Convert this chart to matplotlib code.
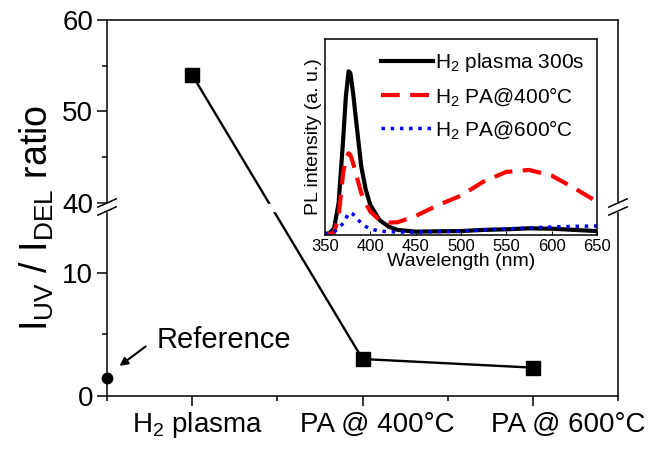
import numpy as np
import matplotlib
matplotlib.use('Agg')
import matplotlib.pyplot as plt
from matplotlib.patches import Rectangle

plt.rcParams['font.family'] = ['Liberation Sans', 'DejaVu Sans']
plt.rcParams['mathtext.fontset'] = 'custom'
plt.rcParams['mathtext.rm'] = 'Liberation Sans'
plt.rcParams['mathtext.it'] = 'Liberation Sans:italic'
plt.rcParams['mathtext.bf'] = 'Liberation Sans:bold'

# UV / defect emission ratio for each treatment
cond_x = [1, 3, 5]
cond_names = ['H$_2$ plasma', 'PA @ 400°C', 'PA @ 600°C']
cond_label_x = [1.06, 3.17, 5.41]
ratio = [54.0, 3.0, 2.3]
ref_x = [0]
ref_ratio = [1.5]

# PL spectra for the inset
wl = [350, 355, 360, 365, 370, 373, 376, 378, 381, 385, 390, 395, 400,
      410, 420, 430, 450, 475, 500, 525, 550, 575, 600, 625, 650]
pl_plasma = [0.005, 0.009, 0.034, 0.162, 0.486, 0.707, 0.835, 0.826, 0.724,
             0.554, 0.349, 0.230, 0.153, 0.077, 0.043, 0.026, 0.017, 0.019,
             0.020, 0.026, 0.029, 0.034, 0.032, 0.026, 0.020]
pl_pa400 = [0.005, 0.005, 0.012, 0.094, 0.315, 0.392, 0.417, 0.409, 0.366,
            0.298, 0.213, 0.162, 0.119, 0.077, 0.063, 0.065, 0.097, 0.153,
            0.201, 0.273, 0.322, 0.332, 0.303, 0.239, 0.170]
pl_pa600 = [0.005, 0.007, 0.017, 0.034, 0.060, 0.085, 0.111, 0.114, 0.106,
            0.085, 0.060, 0.043, 0.031, 0.020, 0.017, 0.015, 0.015, 0.017,
            0.020, 0.026, 0.031, 0.036, 0.041, 0.044, 0.046]

# broken y axis: 0-15 and 40-60 with different scales
LOW_K, GAP_K, UP_K = 12.3, 0.32, 9.125
Y0 = 15 * LOW_K
Y1 = Y0 + 25 * GAP_K


def fwd(y):
    y = np.asarray(y, dtype=float)
    return np.where(y <= 15, y * LOW_K,
                    np.where(y <= 40, Y0 + (y - 15) * GAP_K,
                             Y1 + (y - 40) * UP_K))


def inv(v):
    v = np.asarray(v, dtype=float)
    return np.where(v <= Y0, v / LOW_K,
                    np.where(v <= Y1, 15 + (v - Y0) / GAP_K,
                             40 + (v - Y1) / UP_K))


fig = plt.figure(figsize=(6.5, 4.54), dpi=100)
ax = fig.add_axes([107 / 650, 1 - 396 / 454, 511 / 650, 376 / 454])
ax.set_yscale('function', functions=(fwd, inv))
ax.set_ylim(0, 60)
ax.set_xlim(0, 6)

ax.plot(cond_x, ratio, color='k', lw=1.7, marker='s', ms=10, clip_on=False, zorder=2)
ax.plot(ref_x, ref_ratio, color='k', ls='none', marker='o', ms=7.5, clip_on=False, zorder=5)

for s in ax.spines.values():
    s.set_linewidth(1.1)

ax.set_yticks([0, 10, 40, 50, 60])
ax.set_yticklabels(['0', '10', '40', '50', '60'])
ax.set_yticks([5, 45, 55], minor=True)
ax.yaxis.set_minor_formatter(plt.NullFormatter())
ax.set_xticks(cond_x)
ax.set_xticklabels([])
ax.set_xticks([0, 2, 4, 6], minor=True)
ax.tick_params(which='major', direction='out', length=7, width=1.1, labelsize=20, pad=3)
ax.tick_params(which='minor', direction='out', length=3.5, width=1.1)

for xp, name in zip(cond_label_x, cond_names):
    ax.text(xp, -0.077, name, transform=ax.get_xaxis_transform(),
            ha='center', va='center', fontsize=20)

# gap and break marks
fb = Y0 / fwd(60)
ft = Y1 / fwd(60)
ax.add_patch(Rectangle((-0.02, fb), 1.04, ft - fb - 0.002, transform=ax.transAxes,
                       color='white', zorder=3, clip_on=False))
for x0 in (0, 1):
    for yb in (fb, ft):
        ax.plot([x0 - 0.018, x0 + 0.018], [yb - 0.011, yb + 0.011],
                transform=ax.transAxes, color='k', lw=1.1, clip_on=False, zorder=4)

ax.text(0.587, 3.9, 'Reference', fontsize=21, ha='left', va='baseline')
ax.annotate('', xy=(0.12, 2.3), xytext=(0.48, 4.15),
            arrowprops=dict(arrowstyle='-|>', lw=1.5, color='k', mutation_scale=12))

fig.text(0.056, 0.52, r'I$_{\mathrm{UV}}$ / I$_{\mathrm{DEL}}$ ratio', rotation=90,
         ha='center', va='center', fontsize=27)

# inset: PL spectra
axin = fig.add_axes([325 / 650, 1 - 235 / 454, 272 / 650, 196 / 454])
axin.plot(wl, pl_plasma, color='k', lw=3, label='H$_2$ plasma 300s')
axin.plot(wl, pl_pa400, color='red', lw=3, ls=(0, (4.5, 2.5)), label='H$_2$ PA@400°C')
axin.plot(wl, pl_pa600, color='blue', lw=2.5, ls=':', label='H$_2$ PA@600°C')
axin.set_xlim(350, 650)
axin.set_ylim(0, 1)
axin.set_xticks(range(350, 651, 50))
axin.set_yticks([])
axin.tick_params(direction='in', length=3, labelsize=12, pad=3)
axin.set_xlabel('Wavelength (nm)', fontsize=14, labelpad=-1)
axin.set_ylabel('PL intensity (a. u.)', fontsize=14, labelpad=2)
for s in axin.spines.values():
    s.set_linewidth(1.1)
axin.legend(loc='upper right', frameon=False, fontsize=15, handlelength=2.5,
            handletextpad=0.1, labelspacing=0.5, borderaxespad=0.2)

fig.savefig('out.png', dpi=100)
